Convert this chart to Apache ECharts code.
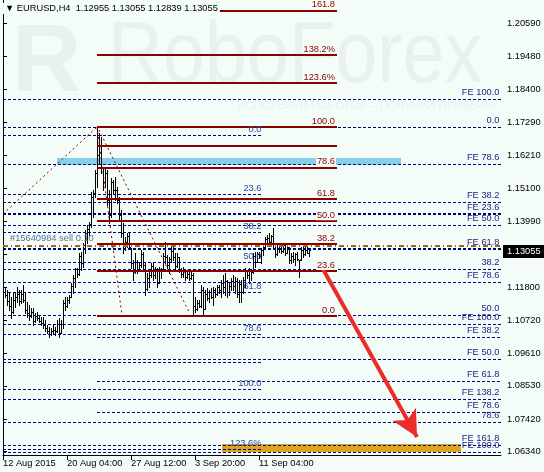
<!DOCTYPE html>
<html><head><meta charset="utf-8">
<script src="https://cdn.jsdelivr.net/npm/echarts@6/dist/echarts.min.js"></script>
<style>html,body{margin:0;padding:0;background:#F4FCF7}#c{width:544px;height:472px}</style>
</head><body><div id="c"></div>
<script>
// ---- price bars (H4, 2015) ----
const open  = [1.1180,1.1165,1.1155,1.1135,1.1120,1.1100,1.1140,1.1150,1.1160,1.1135,1.1160,1.1140,1.1105,1.1095,1.1085,1.1100,1.1070,1.1085,1.1080,1.1070,1.1062,1.1055,1.1045,1.1035,1.1025,1.1035,1.1040,1.1035,1.1060,1.1030,1.1060,1.1130,1.1120,1.1140,1.1150,1.1185,1.1210,1.1240,1.1225,1.1285,1.1260,1.1320,1.1360,1.1375,1.1390,1.1480,1.1495,1.1560,1.1620,1.1650,1.1580,1.1530,1.1560,1.1470,1.1420,1.1530,1.1505,1.1505,1.1470,1.1420,1.1360,1.1320,1.1330,1.1350,1.1310,1.1260,1.1230,1.1265,1.1240,1.1255,1.1290,1.1255,1.1175,1.1210,1.1220,1.1250,1.1220,1.1240,1.1195,1.1235,1.1240,1.1285,1.1280,1.1255,1.1275,1.1300,1.1280,1.1250,1.1280,1.1240,1.1225,1.1230,1.1215,1.1225,1.1210,1.1222,1.1120,1.1110,1.1130,1.1120,1.1170,1.1110,1.1160,1.1145,1.1165,1.1150,1.1170,1.1160,1.1180,1.1170,1.1195,1.1180,1.1200,1.1165,1.1185,1.1200,1.1185,1.1200,1.1160,1.1190,1.1165,1.1205,1.1235,1.1220,1.1240,1.1230,1.1285,1.1265,1.1290,1.1285,1.1305,1.1315,1.1340,1.1345,1.1330,1.1350,1.1325,1.1290,1.1310,1.1320,1.1300,1.1320,1.1295,1.1315,1.1270,1.1285,1.1275,1.1290,1.1270,1.1275,1.1305,1.1290,1.1305,1.12955];
const high  = [1.1188,1.1178,1.1172,1.1165,1.1148,1.1162,1.1165,1.1182,1.1172,1.1172,1.1188,1.1162,1.1132,1.1122,1.1112,1.1112,1.1095,1.1098,1.1088,1.1082,1.1082,1.1072,1.1055,1.1049,1.1045,1.1055,1.1049,1.1072,1.1079,1.1072,1.1138,1.1148,1.1148,1.1155,1.1195,1.1222,1.1245,1.1245,1.1295,1.1298,1.1328,1.1371,1.1388,1.1398,1.1498,1.1504,1.1571,1.1714,1.1694,1.1681,1.1581,1.1578,1.1571,1.1504,1.1544,1.1538,1.1548,1.1514,1.1481,1.1438,1.1395,1.1348,1.1361,1.1365,1.1312,1.1272,1.1295,1.1272,1.1265,1.1305,1.1298,1.1262,1.1228,1.1232,1.1262,1.1262,1.1248,1.1245,1.1248,1.1245,1.1295,1.1331,1.1288,1.1282,1.1315,1.1315,1.1295,1.1295,1.1282,1.1245,1.1248,1.1232,1.1232,1.1238,1.1232,1.1228,1.1148,1.1138,1.1138,1.1188,1.1182,1.1172,1.1178,1.1172,1.1178,1.1182,1.1178,1.1188,1.1188,1.1205,1.1222,1.1228,1.1205,1.1195,1.1212,1.1222,1.1215,1.1212,1.1205,1.1205,1.1215,1.1245,1.1238,1.1245,1.1242,1.1295,1.1298,1.1298,1.1298,1.1312,1.1321,1.1348,1.1355,1.1361,1.1355,1.1378,1.1328,1.1321,1.1328,1.1321,1.1328,1.1321,1.1328,1.1315,1.1295,1.1298,1.1295,1.1298,1.1272,1.1315,1.1321,1.1315,1.1321,1.13055];
const low   = [1.1155,1.1148,1.1122,1.1105,1.1079,1.1095,1.1115,1.1132,1.1122,1.1128,1.1132,1.1095,1.1082,1.1072,1.1082,1.1055,1.1065,1.1072,1.1065,1.1055,1.1045,1.1035,1.1029,1.1015,1.1022,1.1029,1.1022,1.1032,1.1015,1.1029,1.1045,1.1105,1.1115,1.1128,1.1148,1.1162,1.1182,1.1215,1.1222,1.1238,1.1248,1.1295,1.1328,1.1355,1.1381,1.1415,1.1481,1.1514,1.1594,1.1561,1.1504,1.1514,1.1455,1.1395,1.1415,1.1494,1.1471,1.1461,1.1405,1.1348,1.1295,1.1305,1.1315,1.1312,1.1245,1.1205,1.1228,1.1228,1.1238,1.1248,1.1245,1.1155,1.1172,1.1182,1.1215,1.1205,1.1212,1.1182,1.1195,1.1212,1.1238,1.1262,1.1245,1.1228,1.1265,1.1272,1.1238,1.1248,1.1232,1.1215,1.1215,1.1205,1.1212,1.1205,1.1208,1.1087,1.1098,1.1105,1.1115,1.1115,1.1090,1.1108,1.1138,1.1132,1.1145,1.1122,1.1148,1.1155,1.1162,1.1148,1.1162,1.1155,1.1148,1.1155,1.1172,1.1172,1.1162,1.1148,1.1132,1.1132,1.1162,1.1182,1.1212,1.1195,1.1205,1.1228,1.1248,1.1265,1.1278,1.1262,1.1288,1.1312,1.1328,1.1321,1.1329,1.1315,1.1282,1.1288,1.1298,1.1295,1.1298,1.1288,1.1295,1.1262,1.1262,1.1265,1.1255,1.1272,1.1215,1.1272,1.1282,1.1288,1.1295,1.12839];
const close = [1.1165,1.1155,1.1135,1.1120,1.1100,1.1140,1.1150,1.1160,1.1135,1.1160,1.1140,1.1105,1.1095,1.1085,1.1100,1.1070,1.1085,1.1080,1.1070,1.1062,1.1055,1.1045,1.1035,1.1025,1.1035,1.1040,1.1035,1.1060,1.1030,1.1060,1.1130,1.1120,1.1140,1.1150,1.1185,1.1210,1.1240,1.1225,1.1285,1.1260,1.1320,1.1360,1.1375,1.1390,1.1480,1.1495,1.1560,1.1620,1.1650,1.1580,1.1530,1.1560,1.1470,1.1420,1.1530,1.1505,1.1505,1.1470,1.1420,1.1360,1.1320,1.1330,1.1350,1.1315,1.1260,1.1230,1.1265,1.1240,1.1255,1.1290,1.1255,1.1175,1.1210,1.1220,1.1250,1.1220,1.1240,1.1195,1.1235,1.1240,1.1285,1.1280,1.1255,1.1275,1.1300,1.1280,1.1250,1.1280,1.1240,1.1225,1.1235,1.1215,1.1225,1.1210,1.1222,1.1120,1.1110,1.1130,1.1120,1.1170,1.1110,1.1160,1.1145,1.1165,1.1150,1.1170,1.1160,1.1180,1.1170,1.1195,1.1180,1.1200,1.1165,1.1185,1.1200,1.1185,1.1200,1.1160,1.1190,1.1165,1.1205,1.1235,1.1220,1.1240,1.1230,1.1285,1.1265,1.1290,1.1285,1.1305,1.1315,1.1340,1.1345,1.1330,1.1350,1.1325,1.1290,1.1310,1.1320,1.1300,1.1320,1.1295,1.1315,1.1270,1.1285,1.1275,1.1290,1.1275,1.1270,1.1305,1.1290,1.1305,1.12955,1.13055];

// ---- axes ----
const tickBars   = [0, 32, 64, 96, 128];
const tickLabels = ['12 Aug 2015', '20 Aug 04:00', '27 Aug 12:00', '3 Sep 20:00', '11 Sep 04:00'];
const priceTicks = [1.20590, 1.19480, 1.18400, 1.17290, 1.16210, 1.15100, 1.13990, 1.12910, 1.11800, 1.10720, 1.09610, 1.08530, 1.07420, 1.06340];
const lastPrice  = 1.13055;

// ---- Fibonacci retracement (solid, dark red) ----
const redLevels = [1.2102, 1.19535, 1.1862, 1.1714, 1.1650, 1.15798, 1.14745, 1.14005, 1.13265, 1.1235, 1.1087];
const redLabels = ['161.8', '138.2%', '123.6%', '100.0', '', '78.6', '61.8', '50.0', '38.2', '23.6', '0.0'];
const redFrom = 47, redTo = 167;

// ---- Fibonacci retracement (dashed, mid labels) ----
const midLevels = [1.16874, 1.14911, 1.13647, 1.12648, 1.11651, 1.10253, 1.09321, 1.08423, 1.06427];
const midLabels = ['0.0', '23.6', '38.2', '50.0', '61.8', '78.6', '', '100.0', '123.6%'];
const midFrom = 0, midTo = 129.5;

// ---- expansions / levels labelled at right ----
const feLevels = [1.18071, 1.17140, 1.15909, 1.14644, 1.14245, 1.13879, 1.13081, 1.12416, 1.11983, 1.10885, 1.10586, 1.10153, 1.09421, 1.08689, 1.08090, 1.07658, 1.07325, 1.06560, 1.06327];
const feLabels = ['FE 100.0', '0.0', 'FE 78.6', 'FE 38.2', 'FE 23.6', 'FE 50.0', 'FE 61.8', '38.2', 'FE 78.6', '50.0', 'FE 100.0', 'FE 38.2', 'FE 50.0', 'FE 61.8', 'FE 138.2', 'FE 78.6', '78.6', 'FE 161.8', 'FE 100.0'];
const feFrom   = [0, 0, 0, 0, 0, 0, 0, 0, 0, 0, 0, 47, 0, 47, 0, 47, 0, 0, 0];
const feBold   = [0, 0, 0, 0, 1, 0, 1, 0, 0, 0, 0, 0, 0, 0, 0, 0, 0, 0, 0];
const feTo = 249;

// ---- zones, trend lines, order, arrow ----
const blueZone = [[27, 1.16108], [199, 1.15875]];
const goldZone = [[109.5, 1.06593], [229, 1.06327]];
const dotLines = [[[0, 1.14245], [47, 1.1714]], [[47, 1.1714], [59.5, 1.1087]], [[48, 1.1704], [93.5, 1.1092]]];
const orderPrice = 1.13214, orderText = '#15640984 sell 0.10';
const arrowLine = [[158, 1.12648], [207, 1.06826]];

const bg = '#F4FCF7';
const FF = '"Liberation Sans", Arial, sans-serif';
const FS = 9.3;
const WM = '#E8F1EE';

const bars = open.map((o, i) => [i, o, high[i], low[i], close[i]]);

function seg(levels, labels, from, to, extra) {
  return levels.map((p, k) => {
    const f = Array.isArray(from) ? from[k] : from;
    const item = { name: labels[k], coord: [f, p] };
    if (!labels[k]) item.label = { show: false };
    if (extra) Object.assign(item, extra(k));
    return [item, { coord: [to, p] }];
  });
}

const chart = echarts.init(document.getElementById('c'), null, { renderer: 'canvas' });
chart.setOption({
  animation: false,
  backgroundColor: bg,
  title: {
    text: '▼ EURUSD,H4  1.12955 1.13055 1.12839 1.13055',
    left: 3, top: 3, padding: [1, 2, 1, 2],
    backgroundColor: bg,
    textStyle: { fontFamily: FF, fontSize: FS, fontWeight: 'normal', color: '#000' }
  },
  graphic: [
    { type: 'text', z: -10, left: 12, top: 17, style: { text: 'R', font: 'bold 96px "Liberation Sans", Arial', fill: WM } },
    { type: 'text', z: -10, left: 108, top: 14, scaleX: 0.86, style: { text: 'RoboForex', font: '88px "Liberation Sans", Arial', fill: WM } },
    { type: 'text', z: -10, left: 237, top: 100, style: { text: 'ИСПОЛЬЗУЙ РОБОТОВ – ПОЛУЧАЙ ПРИБЫЛЬ', font: '11.5px "Liberation Sans", Arial', fill: WM } }
  ],
  grid: { left: 3, right: 43, top: 0, bottom: 17, containLabel: false },
  xAxis: {
    type: 'value', min: 0, max: 249,
    axisLine: { show: true, lineStyle: { color: '#000', width: 1 } },
    axisTick: { show: true, customValues: tickBars, length: 5, lineStyle: { color: '#000' } },
    axisLabel: { customValues: tickBars, align: 'left', margin: 4, fontFamily: FF, fontSize: FS, color: '#000',
      formatter: v => tickLabels[tickBars.indexOf(v)] || '' },
    splitLine: { show: false }
  },
  yAxis: [{
    type: 'value', position: 'right', min: 1.06227, max: 1.21365, scale: true,
    axisLine: { show: true, lineStyle: { color: '#000', width: 1 } },
    axisTick: { show: true, customValues: priceTicks, length: 4, lineStyle: { color: '#000' } },
    axisLabel: { customValues: priceTicks, margin: 6, fontFamily: FF, fontSize: FS, color: '#000',
      formatter: v => v.toFixed(5) },
    splitLine: { show: false }
  }, {
    type: 'value', position: 'left', min: 1.06227, max: 1.21365,
    axisLine: { show: true, lineStyle: { color: '#000', width: 1 } },
    axisTick: { show: false }, axisLabel: { show: false }, splitLine: { show: false }
  }],
  series: [
    { // zones
      type: 'line', data: [], z: 1, silent: true,
      markArea: { silent: true, data: [
        [{ coord: blueZone[0], itemStyle: { color: '#87CEEB' } }, { coord: blueZone[1] }],
        [{ coord: goldZone[0], itemStyle: { color: '#DAA520' } }, { coord: goldZone[1] }]
      ] }
    },
    { // dashed levels, right labels
      type: 'line', data: [], z: 2, silent: true,
      markLine: { silent: true, symbol: ['none', 'none'], animation: false,
        lineStyle: { color: '#000080', width: 1, type: [3, 2], opacity: 1 },
        label: { show: true, position: 'insideEndTop', formatter: '{b}', distance: [1.5, 2], color: '#1C1C86', fontFamily: FF, fontSize: FS },
        data: seg(feLevels, feLabels, feFrom, feTo,
          k => feBold[k] ? { lineStyle: { width: 2, type: [3, 2], color: '#000080' } } : {})
      }
    },
    { // dashed retracement, mid labels
      type: 'line', data: [], z: 2, silent: true,
      markLine: { silent: true, symbol: ['none', 'none'], animation: false,
        lineStyle: { color: '#000080', width: 1, type: [3, 2], opacity: 1 },
        label: { show: true, position: 'insideEndTop', formatter: '{b}', distance: [0.5, 1], color: '#2A4BA0', fontFamily: FF, fontSize: FS },
        data: seg(midLevels, midLabels, midFrom, midTo)
      }
    },
    { // order line
      type: 'line', data: [], z: 2, silent: true,
      markLine: { silent: true, symbol: ['none', 'none'], animation: false,
        data: [
          [{ coord: [0, orderPrice - 0.00033], lineStyle: { color: '#1E9E1E', width: 1, type: [5, 3, 1, 3] }, label: { show: false } }, { coord: [249, orderPrice - 0.00033] }],
          [{ name: orderText, coord: [0, orderPrice], lineStyle: { color: '#FF4A00', width: 1, type: [5, 3, 1, 3] },
             label: { show: true, position: 'insideStartTop', formatter: '{b}', distance: [7, 2], color: '#54739C', fontFamily: FF, fontSize: FS } },
           { coord: [249, orderPrice] }]
        ]
      }
    },
    { // solid red retracement
      type: 'line', data: [], z: 3, silent: true,
      markLine: { silent: true, symbol: ['none', 'none'], animation: false,
        lineStyle: { color: '#880000', width: 2, type: 'solid', opacity: 1 },
        label: { show: true, position: 'insideEndTop', formatter: '{b}', distance: [1, 1], color: '#8B0000', fontFamily: FF, fontSize: FS, backgroundColor: bg, padding: [0, 1, 0, 1] },
        data: seg(redLevels, redLabels, redFrom, redTo)
      }
    },
    { // dotted trend lines
      type: 'line', data: [], z: 3, silent: true,
      markLine: { silent: true, symbol: ['none', 'none'], animation: false,
        lineStyle: { color: '#8B0000', width: 1, type: [2, 3], opacity: 1 },
        label: { show: false },
        data: dotLines.map(l => [{ coord: l[0] }, { coord: l[1] }])
      }
    },
    { // OHLC bars
      type: 'custom', z: 4, silent: true, data: bars, clip: true,
      renderItem: (params, api) => {
        const x = api.value(0);
        const o = api.coord([x, api.value(1)]), h = api.coord([x, api.value(2)]);
        const l = api.coord([x, api.value(3)]), c = api.coord([x, api.value(4)]);
        const px = Math.round(h[0]) + 0.5;
        const st = { stroke: '#000', lineWidth: 1 };
        return { type: 'group', children: [
          { type: 'line', shape: { x1: px, y1: Math.round(h[1]), x2: px, y2: Math.round(l[1]) + 1 }, style: st },
          { type: 'line', shape: { x1: px - 1, y1: Math.round(o[1]) + 0.5, x2: px, y2: Math.round(o[1]) + 0.5 }, style: st },
          { type: 'line', shape: { x1: px, y1: Math.round(c[1]) + 0.5, x2: px + 1.5, y2: Math.round(c[1]) + 0.5 }, style: st }
        ] };
      }
    },
    { // arrow
      type: 'line', data: [], z: 6, silent: true,
      markLine: { silent: true, animation: false,
        data: [
          [{ coord: arrowLine[0], symbol: 'none', lineStyle: { color: '#EC2B2B', width: 4, type: 'solid' }, label: { show: false } },
           { coord: arrowLine[1], symbol: 'arrow', symbolSize: [20, 26] }]
        ]
      }
    },
    { // last price tag on the price scale
      type: 'line', data: [], z: 7, silent: true, clip: false,
      markLine: { silent: true, animation: false, symbol: ['none', 'none'],
        lineStyle: { color: 'rgba(0,0,0,0)', width: 0 },
        label: { show: true, position: 'end', distance: 2, formatter: lastPrice.toFixed(5), color: '#fff', backgroundColor: '#000',
          fontFamily: FF, fontSize: FS, padding: [2, 4, 2, 4] },
        data: [{ yAxis: lastPrice }]
      }
    }
  ]
});
</script>
</body></html>
